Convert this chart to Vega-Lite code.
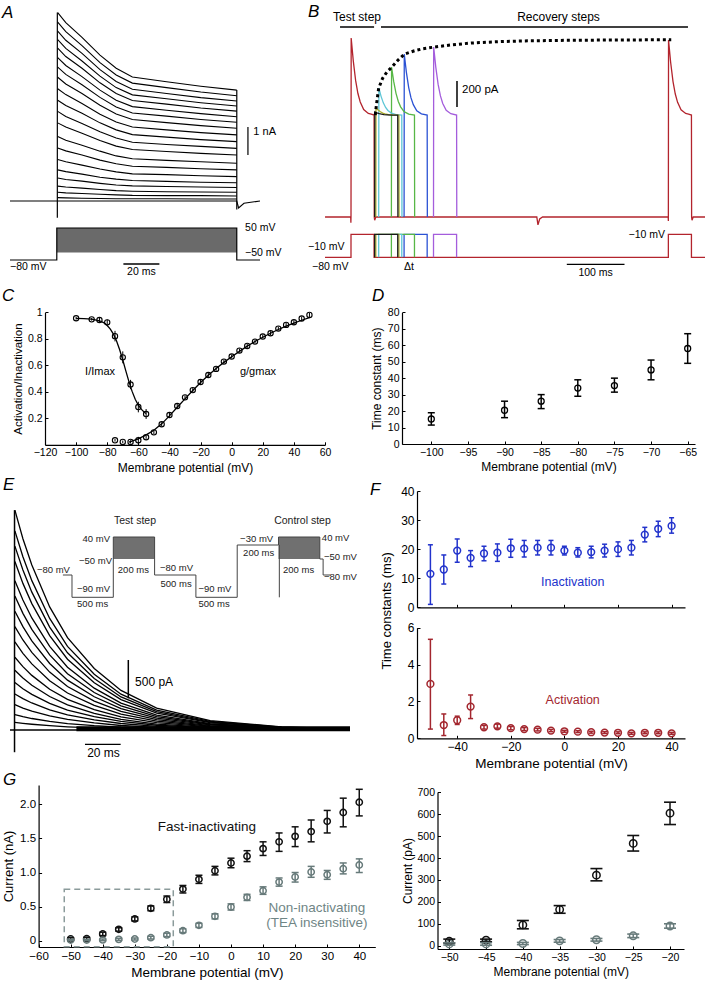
{
"$schema":"https://vega.github.io/schema/vega-lite/v6.json",
"width":705,"height":982,
"autosize":{"type":"none"},
"padding":0,
"background":"white",
"config":{
 "view":{"stroke":null},
 "font":"Liberation Sans",
 "axis":{"grid":false,"domainColor":"#000","domainWidth":1.2,"tickColor":"#000","tickWidth":1,"tickSize":-3,"labelPadding":6,"labelColor":"#000","titleColor":"#000","titleFontWeight":"normal","labelFont":"Liberation Sans","titleFont":"Liberation Sans","labelFontSize":10.5,"titleFontSize":12,"labelFlush":false,"labelOverlap":false,"titlePadding":4},
 "text":{"font":"Liberation Sans","fontSize":10.5,"color":"#000"}
},
"resolve":{"scale":{"x":"independent","y":"independent","color":"independent"},"axis":{"x":"independent","y":"independent"}},
"layer":[
{"layer":[
  {"layer":[
   {"data":{"values":[
{"k":0,"t":-26,"v":0},{"k":0,"t":100,"v":0},{"k":0,"t":101,"v":-0.25},{"k":0,"t":104,"v":-0.08},{"k":0,"t":112.9,"v":0},
{"k":1,"t":0.5,"v":6.73},{"k":1,"t":5,"v":6.37},{"k":1,"t":14,"v":5.84},{"k":1,"t":24,"v":5.21},{"k":1,"t":33,"v":4.74},{"k":1,"t":42,"v":4.43},{"k":1,"t":61,"v":4.26},{"k":1,"t":80,"v":4.1},{"k":1,"t":100,"v":3.96},
{"k":2,"t":0.5,"v":6.39},{"k":2,"t":5,"v":6.05},{"k":2,"t":14,"v":5.55},{"k":2,"t":24,"v":4.94},{"k":2,"t":33,"v":4.5},{"k":2,"t":42,"v":4.21},{"k":2,"t":61,"v":4.05},{"k":2,"t":80,"v":3.89},{"k":2,"t":100,"v":3.76},
{"k":3,"t":0.5,"v":6.07},{"k":3,"t":5,"v":5.74},{"k":3,"t":14,"v":5.27},{"k":3,"t":24,"v":4.69},{"k":3,"t":33,"v":4.27},{"k":3,"t":42,"v":3.99},{"k":3,"t":61,"v":3.84},{"k":3,"t":80,"v":3.69},{"k":3,"t":100,"v":3.57},
{"k":4,"t":0.5,"v":5.76},{"k":4,"t":5,"v":5.45},{"k":4,"t":14,"v":5.0},{"k":4,"t":24,"v":4.46},{"k":4,"t":33,"v":4.05},{"k":4,"t":42,"v":3.79},{"k":4,"t":61,"v":3.65},{"k":4,"t":80,"v":3.51},{"k":4,"t":100,"v":3.39},
{"k":5,"t":0.5,"v":5.46},{"k":5,"t":5,"v":5.16},{"k":5,"t":14,"v":4.74},{"k":5,"t":24,"v":4.22},{"k":5,"t":33,"v":3.84},{"k":5,"t":42,"v":3.59},{"k":5,"t":61,"v":3.46},{"k":5,"t":80,"v":3.32},{"k":5,"t":100,"v":3.21},
{"k":6,"t":0.5,"v":5.12},{"k":6,"t":5,"v":4.84},{"k":6,"t":14,"v":4.44},{"k":6,"t":24,"v":3.96},{"k":6,"t":33,"v":3.6},{"k":6,"t":42,"v":3.37},{"k":6,"t":61,"v":3.24},{"k":6,"t":80,"v":3.12},{"k":6,"t":100,"v":3.01},
{"k":7,"t":0.5,"v":4.78},{"k":7,"t":5,"v":4.52},{"k":7,"t":14,"v":4.15},{"k":7,"t":24,"v":3.7},{"k":7,"t":33,"v":3.36},{"k":7,"t":42,"v":3.14},{"k":7,"t":61,"v":3.03},{"k":7,"t":80,"v":2.91},{"k":7,"t":100,"v":2.81},
{"k":8,"t":0.5,"v":4.42},{"k":8,"t":5,"v":4.18},{"k":8,"t":14,"v":3.84},{"k":8,"t":24,"v":3.42},{"k":8,"t":33,"v":3.11},{"k":8,"t":42,"v":2.91},{"k":8,"t":61,"v":2.8},{"k":8,"t":80,"v":2.69},{"k":8,"t":100,"v":2.6},
{"k":9,"t":0.5,"v":4.01},{"k":9,"t":5,"v":3.8},{"k":9,"t":14,"v":3.48},{"k":9,"t":24,"v":3.1},{"k":9,"t":33,"v":2.82},{"k":9,"t":42,"v":2.64},{"k":9,"t":61,"v":2.54},{"k":9,"t":80,"v":2.44},{"k":9,"t":100,"v":2.36},
{"k":10,"t":0.5,"v":3.6},{"k":10,"t":5,"v":3.41},{"k":10,"t":14,"v":3.13},{"k":10,"t":24,"v":2.79},{"k":10,"t":33,"v":2.54},{"k":10,"t":42,"v":2.37},{"k":10,"t":61,"v":2.28},{"k":10,"t":80,"v":2.19},{"k":10,"t":100,"v":2.12},
{"k":11,"t":0.5,"v":3.2},{"k":11,"t":5,"v":3.02},{"k":11,"t":14,"v":2.77},{"k":11,"t":24,"v":2.47},{"k":11,"t":33,"v":2.25},{"k":11,"t":42,"v":2.1},{"k":11,"t":61,"v":2.02},{"k":11,"t":80,"v":1.95},{"k":11,"t":100,"v":1.88},
{"k":12,"t":0.5,"v":2.79},{"k":12,"t":5,"v":2.64},{"k":12,"t":14,"v":2.42},{"k":12,"t":24,"v":2.16},{"k":12,"t":33,"v":1.96},{"k":12,"t":42,"v":1.84},{"k":12,"t":61,"v":1.77},{"k":12,"t":80,"v":1.7},{"k":12,"t":100,"v":1.64},
{"k":13,"t":0.5,"v":2.3},{"k":13,"t":5,"v":2.17},{"k":13,"t":14,"v":1.99},{"k":13,"t":24,"v":1.78},{"k":13,"t":33,"v":1.61},{"k":13,"t":42,"v":1.51},{"k":13,"t":61,"v":1.45},{"k":13,"t":80,"v":1.4},{"k":13,"t":100,"v":1.35},
{"k":14,"t":0.5,"v":1.89},{"k":14,"t":5,"v":1.79},{"k":14,"t":14,"v":1.64},{"k":14,"t":24,"v":1.46},{"k":14,"t":33,"v":1.33},{"k":14,"t":42,"v":1.24},{"k":14,"t":61,"v":1.2},{"k":14,"t":80,"v":1.15},{"k":14,"t":100,"v":1.11},
{"k":15,"t":0.5,"v":1.48},{"k":15,"t":5,"v":1.4},{"k":15,"t":14,"v":1.28},{"k":15,"t":24,"v":1.14},{"k":15,"t":33,"v":1.04},{"k":15,"t":42,"v":0.97},{"k":15,"t":61,"v":0.94},{"k":15,"t":80,"v":0.9},{"k":15,"t":100,"v":0.87},
{"k":16,"t":0.5,"v":1.11},{"k":16,"t":5,"v":1.05},{"k":16,"t":14,"v":0.96},{"k":16,"t":24,"v":0.85},{"k":16,"t":33,"v":0.78},{"k":16,"t":42,"v":0.73},{"k":16,"t":61,"v":0.7},{"k":16,"t":80,"v":0.67},{"k":16,"t":100,"v":0.65},
{"k":17,"t":0.5,"v":0.82},{"k":17,"t":5,"v":0.77},{"k":17,"t":14,"v":0.71},{"k":17,"t":24,"v":0.63},{"k":17,"t":33,"v":0.57},{"k":17,"t":42,"v":0.54},{"k":17,"t":61,"v":0.52},{"k":17,"t":80,"v":0.5},{"k":17,"t":100,"v":0.48},
{"k":18,"t":0.5,"v":0.53},{"k":18,"t":5,"v":0.5},{"k":18,"t":14,"v":0.46},{"k":18,"t":24,"v":0.41},{"k":18,"t":33,"v":0.37},{"k":18,"t":42,"v":0.35},{"k":18,"t":61,"v":0.33},{"k":18,"t":80,"v":0.32},{"k":18,"t":100,"v":0.31},
{"k":19,"t":0.5,"v":0.31},{"k":19,"t":5,"v":0.29},{"k":19,"t":14,"v":0.27},{"k":19,"t":24,"v":0.24},{"k":19,"t":33,"v":0.22},{"k":19,"t":42,"v":0.2},{"k":19,"t":61,"v":0.19},{"k":19,"t":80,"v":0.19},{"k":19,"t":100,"v":0.18},
{"k":20,"t":0.5,"v":0.12},{"k":20,"t":5,"v":0.11},{"k":20,"t":14,"v":0.1},{"k":20,"t":24,"v":0.09},{"k":20,"t":33,"v":0.08},{"k":20,"t":42,"v":0.08},{"k":20,"t":61,"v":0.08},{"k":20,"t":80,"v":0.07},{"k":20,"t":100,"v":0.07}
   ]},
    "mark":{"type":"line","color":"#000","strokeWidth":1.1},
    "encoding":{"x":{"field":"t","type":"quantitative","scale":{"domain":[-26,112.9],"range":[10,260],"nice":false,"zero":false},"axis":null},
                "y":{"field":"v","type":"quantitative","scale":{"domain":[-2.286,6.821],"range":[265,10],"nice":false,"zero":false},"axis":null},
                "detail":{"field":"k","type":"nominal"}}},
   {"data":{"values":[{"t":0.3,"v1":-0.6,"v2":6.73},{"t":100,"v1":-0.3,"v2":3.96},{"t":106.2,"v1":1.64,"v2":2.64}]},
    "mark":{"type":"rule","color":"#000","strokeWidth":1.2},
    "encoding":{"x":{"field":"t","type":"quantitative","scale":{"domain":[-26,112.9],"range":[10,260],"nice":false,"zero":false},"axis":null},
                "y":{"field":"v1","type":"quantitative","scale":{"domain":[-2.286,6.821],"range":[265,10],"nice":false,"zero":false},"axis":null},
                "y2":{"field":"v2"}}},
   {"data":{"values":[{"t":109.2,"v":2.45,"label":"1 nA"}]},
    "mark":{"type":"text","align":"left","fontSize":11},
    "encoding":{"x":{"field":"t","type":"quantitative","scale":{"domain":[-26,112.9],"range":[10,260],"nice":false,"zero":false},"axis":null},
                "y":{"field":"v","type":"quantitative","scale":{"domain":[-2.286,6.821],"range":[265,10],"nice":false,"zero":false},"axis":null},
                "text":{"field":"label"}}},
   {"data":{"values":[{"t":-30.4,"v":6.73,"label":"A"}]},
    "mark":{"type":"text","align":"left","fontSize":17,"fontStyle":"italic"},
    "encoding":{"x":{"field":"t","type":"quantitative","scale":{"domain":[-26,112.9],"range":[10,260],"nice":false,"zero":false},"axis":null},
                "y":{"field":"v","type":"quantitative","scale":{"domain":[-2.286,6.821],"range":[265,10],"nice":false,"zero":false},"axis":null},
                "text":{"field":"label"}}}
  ]},
  {"layer":[
   {"data":{"values":[{"t1":0,"t2":100,"m1":-50,"m2":50}]},
    "mark":{"type":"rect","color":"#6a6a6a"},
    "encoding":{"x":{"field":"t1","type":"quantitative","scale":{"domain":[-26,112.9],"range":[10,260],"nice":false,"zero":false},"axis":null},"x2":{"field":"t2"},
                "y":{"field":"m1","type":"quantitative","scale":{"domain":[-100.3,935.6],"range":[265,10],"nice":false,"zero":false},"axis":null},"y2":{"field":"m2"}}},
   {"data":{"values":[{"t":-26,"m":-80},{"t":0,"m":-80},{"t":0.01,"m":50},{"t":99.99,"m":50},{"t":100,"m":-80},{"t":112.9,"m":-80}]},
    "mark":{"type":"line","color":"#000","strokeWidth":1.2},
    "encoding":{"x":{"field":"t","type":"quantitative","scale":{"domain":[-26,112.9],"range":[10,260],"nice":false,"zero":false},"axis":null},
                "y":{"field":"m","type":"quantitative","scale":{"domain":[-100.3,935.6],"range":[265,10],"nice":false,"zero":false},"axis":null}}},
   {"data":{"values":[{"t1":37,"t2":57,"m":-96.25}]},
    "mark":{"type":"rule","color":"#000","strokeWidth":1.3},
    "encoding":{"x":{"field":"t1","type":"quantitative","scale":{"domain":[-26,112.9],"range":[10,260],"nice":false,"zero":false},"axis":null},"x2":{"field":"t2"},
                "y":{"field":"m","type":"quantitative","scale":{"domain":[-100.3,935.6],"range":[265,10],"nice":false,"zero":false},"axis":null}}},
   {"data":{"values":[{"t":104.6,"m":50,"label":"50 mV"},{"t":104.6,"m":-50,"label":"−50 mV"},{"t":-26,"m":-108.4,"label":"−80 mV"}]},
    "mark":{"type":"text","align":"left"},
    "encoding":{"x":{"field":"t","type":"quantitative","scale":{"domain":[-26,112.9],"range":[10,260],"nice":false,"zero":false},"axis":null},
                "y":{"field":"m","type":"quantitative","scale":{"domain":[-100.3,935.6],"range":[265,10],"nice":false,"zero":false},"axis":null},
                "text":{"field":"label"}}},
   {"data":{"values":[{"t":47,"m":-127.5,"label":"20 ms"}]},
    "mark":{"type":"text"},
    "encoding":{"x":{"field":"t","type":"quantitative","scale":{"domain":[-26,112.9],"range":[10,260],"nice":false,"zero":false},"axis":null},
                "y":{"field":"m","type":"quantitative","scale":{"domain":[-100.3,935.6],"range":[265,10],"nice":false,"zero":false},"axis":null},
                "text":{"field":"label"}}}
  ]}
 ],
 "resolve":{"scale":{"y":"independent"}}
},
{"layer":[
  {"layer":[
   {"data":{"values":[
{"t":-45,"v":0},{"t":-0.5,"v":0},{"t":-0.2,"v":-45},{"t":0,"v":0},{"t":0.3,"v":1378},{"t":4,"v":1200},{"t":8,"v":1052},{"t":12,"v":951},{"t":16,"v":886},{"t":22,"v":827},{"t":30,"v":797},{"t":35,"v":792},{"t":40,"v":785},{"t":40.3,"v":0},{"t":41,"v":-25},{"t":43,"v":0},{"t":322,"v":0},{"t":324,"v":-60},{"t":327,"v":-15},{"t":332,"v":0},{"t":549.7,"v":0},{"t":550,"v":-30},{"t":550.3,"v":1363},{"t":554,"v":1190},{"t":558,"v":1045},{"t":562,"v":947},{"t":566,"v":883},{"t":572,"v":825},{"t":580,"v":797},{"t":585,"v":792},{"t":590,"v":785},{"t":590.3,"v":0},{"t":591,"v":-25},{"t":593,"v":0},{"t":613.5,"v":0}
   ]},
    "mark":{"type":"line","color":"#b3242d","strokeWidth":1.3},
    "encoding":{"x":{"field":"t","type":"quantitative","scale":{"domain":[-79.72,613.5],"range":[305,705],"nice":false,"zero":false},"axis":null},
                "y":{"field":"v","type":"quantitative","scale":{"domain":[-446.6,1663.2],"range":[275,1],"nice":false,"zero":false},"axis":null}}},
   {"data":{"values":[
{"c":"purple","t":143,"v":0},{"c":"purple","t":143.3,"v":1309},{"c":"purple","t":147,"v":1152},{"c":"purple","t":151,"v":1021},{"c":"purple","t":155,"v":932},{"c":"purple","t":159,"v":874},{"c":"purple","t":165,"v":822},{"c":"purple","t":173,"v":795},{"c":"purple","t":183,"v":785},{"c":"purple","t":183.3,"v":0},
{"c":"blue","t":92,"v":0},{"c":"blue","t":92.3,"v":1255},{"c":"blue","t":96,"v":1114},{"c":"blue","t":100,"v":997},{"c":"blue","t":104,"v":917},{"c":"blue","t":108,"v":865},{"c":"blue","t":114,"v":818},{"c":"blue","t":122,"v":794},{"c":"blue","t":132,"v":785},{"c":"blue","t":132.3,"v":0},
{"c":"green","t":70,"v":0},{"c":"green","t":70.3,"v":1155},{"c":"green","t":74,"v":1044},{"c":"green","t":78,"v":952},{"c":"green","t":82,"v":889},{"c":"green","t":86,"v":848},{"c":"green","t":92,"v":811},{"c":"green","t":100,"v":792},{"c":"green","t":110,"v":785},{"c":"green","t":110.3,"v":0},
{"c":"cyan","t":48,"v":0},{"c":"cyan","t":48.3,"v":993},{"c":"cyan","t":52,"v":931},{"c":"cyan","t":56,"v":879},{"c":"cyan","t":60,"v":843},{"c":"cyan","t":64,"v":820},{"c":"cyan","t":70,"v":800},{"c":"cyan","t":78,"v":789},{"c":"cyan","t":88,"v":785},{"c":"cyan","t":88.3,"v":0},
{"c":"olive","t":43,"v":0},{"c":"olive","t":43.3,"v":840},{"c":"olive","t":47,"v":824},{"c":"olive","t":51,"v":810},{"c":"olive","t":55,"v":800},{"c":"olive","t":59,"v":794},{"c":"olive","t":65,"v":789},{"c":"olive","t":73,"v":786},{"c":"olive","t":83,"v":785},{"c":"olive","t":83.3,"v":0},
{"c":"black","t":41,"v":0},{"c":"black","t":41.3,"v":810},{"c":"black","t":45,"v":802},{"c":"black","t":49,"v":796},{"c":"black","t":53,"v":792},{"c":"black","t":57,"v":789},{"c":"black","t":63,"v":787},{"c":"black","t":71,"v":785},{"c":"black","t":81,"v":785},{"c":"black","t":81.3,"v":0}
   ]},
    "mark":{"type":"line","strokeWidth":1.3},
    "encoding":{"x":{"field":"t","type":"quantitative","scale":{"domain":[-79.72,613.5],"range":[305,705],"nice":false,"zero":false},"axis":null},
                "y":{"field":"v","type":"quantitative","scale":{"domain":[-446.6,1663.2],"range":[275,1],"nice":false,"zero":false},"axis":null},
                "color":{"field":"c","type":"nominal","scale":{"domain":["black","olive","cyan","green","blue","purple"],"range":["#1a1a1a","#aeb02c","#5ec6d6","#57b746","#2b52d4","#a45ddc"]},"legend":null}}},
   {"data":{"values":[{"t":42,"v":785},{"t":44,"v":860},{"t":48,"v":993},{"t":55,"v":1070},{"t":62,"v":1115},{"t":71,"v":1155},{"t":82,"v":1210},{"t":93,"v":1255},{"t":110,"v":1280},{"t":125,"v":1296},{"t":145,"v":1309},{"t":175,"v":1326},{"t":210,"v":1340},{"t":260,"v":1351},{"t":300,"v":1356},{"t":380,"v":1361},{"t":470,"v":1363},{"t":555,"v":1365}]},
    "mark":{"type":"line","color":"#000","strokeWidth":3,"strokeDash":[3,3]},
    "encoding":{"x":{"field":"t","type":"quantitative","scale":{"domain":[-79.72,613.5],"range":[305,705],"nice":false,"zero":false},"axis":null},
                "y":{"field":"v","type":"quantitative","scale":{"domain":[-446.6,1663.2],"range":[275,1],"nice":false,"zero":false},"axis":null}}},
   {"data":{"values":[{"t1":-19,"t2":40,"v":1463},{"t1":52,"t2":584,"v":1463}]},
    "mark":{"type":"rule","color":"#000","strokeWidth":1.3},
    "encoding":{"x":{"field":"t1","type":"quantitative","scale":{"domain":[-79.72,613.5],"range":[305,705],"nice":false,"zero":false},"axis":null},"x2":{"field":"t2"},
                "y":{"field":"v","type":"quantitative","scale":{"domain":[-446.6,1663.2],"range":[275,1],"nice":false,"zero":false},"axis":null}}},
   {"data":{"values":[{"t":183.7,"v1":847,"v2":1047}]},
    "mark":{"type":"rule","color":"#000","strokeWidth":1.5},
    "encoding":{"x":{"field":"t","type":"quantitative","scale":{"domain":[-79.72,613.5],"range":[305,705],"nice":false,"zero":false},"axis":null},
                "y":{"field":"v1","type":"quantitative","scale":{"domain":[-446.6,1663.2],"range":[275,1],"nice":false,"zero":false},"axis":null},"y2":{"field":"v2"}}},
   {"data":{"values":[{"t":10.4,"v":1540,"label":"Test step"},{"t":359.6,"v":1540,"label":"Recovery steps"}]},
    "mark":{"type":"text","fontSize":12},
    "encoding":{"x":{"field":"t","type":"quantitative","scale":{"domain":[-79.72,613.5],"range":[305,705],"nice":false,"zero":false},"axis":null},
                "y":{"field":"v","type":"quantitative","scale":{"domain":[-446.6,1663.2],"range":[275,1],"nice":false,"zero":false},"axis":null},"text":{"field":"label"}}},
   {"data":{"values":[{"t":192.4,"v":978,"label":"200 pA"}]},
    "mark":{"type":"text","fontSize":11.5,"align":"left"},
    "encoding":{"x":{"field":"t","type":"quantitative","scale":{"domain":[-79.72,613.5],"range":[305,705],"nice":false,"zero":false},"axis":null},
                "y":{"field":"v","type":"quantitative","scale":{"domain":[-446.6,1663.2],"range":[275,1],"nice":false,"zero":false},"axis":null},"text":{"field":"label"}}},
   {"data":{"values":[{"t":-74.5,"v":1582,"label":"B"}]},
    "mark":{"type":"text","fontSize":17,"fontStyle":"italic","align":"left"},
    "encoding":{"x":{"field":"t","type":"quantitative","scale":{"domain":[-79.72,613.5],"range":[305,705],"nice":false,"zero":false},"axis":null},
                "y":{"field":"v","type":"quantitative","scale":{"domain":[-446.6,1663.2],"range":[275,1],"nice":false,"zero":false},"axis":null},"text":{"field":"label"}}}
  ]},
  {"layer":[
   {"data":{"values":[{"t":-45,"m":-80},{"t":0,"m":-80},{"t":0.01,"m":-10},{"t":40,"m":-10},{"t":40.01,"m":-80},{"t":550,"m":-80},{"t":550.01,"m":-10},{"t":590,"m":-10},{"t":590.01,"m":-80},{"t":613.5,"m":-80}]},
    "mark":{"type":"line","color":"#b3242d","strokeWidth":1.3},
    "encoding":{"x":{"field":"t","type":"quantitative","scale":{"domain":[-79.72,613.5],"range":[305,705],"nice":false,"zero":false},"axis":null},
                "y":{"field":"m","type":"quantitative","scale":{"domain":[-133.9,699.9],"range":[275,1],"nice":false,"zero":false},"axis":null}}},
   {"data":{"values":[
{"c":"purple","t":143,"m":-80},{"c":"purple","t":143.01,"m":-10},{"c":"purple","t":183,"m":-10},{"c":"purple","t":183.01,"m":-80},
{"c":"blue","t":92,"m":-80},{"c":"blue","t":92.01,"m":-10},{"c":"blue","t":132,"m":-10},{"c":"blue","t":132.01,"m":-80},
{"c":"green","t":70,"m":-80},{"c":"green","t":70.01,"m":-10},{"c":"green","t":110,"m":-10},{"c":"green","t":110.01,"m":-80},
{"c":"cyan","t":48,"m":-80},{"c":"cyan","t":48.01,"m":-10},{"c":"cyan","t":88,"m":-10},{"c":"cyan","t":88.01,"m":-80},
{"c":"olive","t":43,"m":-80},{"c":"olive","t":43.01,"m":-10},{"c":"olive","t":83,"m":-10},{"c":"olive","t":83.01,"m":-80},
{"c":"black","t":41,"m":-80},{"c":"black","t":41.01,"m":-10},{"c":"black","t":81,"m":-10},{"c":"black","t":81.01,"m":-80}
   ]},
    "mark":{"type":"line","strokeWidth":1.3},
    "encoding":{"x":{"field":"t","type":"quantitative","scale":{"domain":[-79.72,613.5],"range":[305,705],"nice":false,"zero":false},"axis":null},
                "y":{"field":"m","type":"quantitative","scale":{"domain":[-133.9,699.9],"range":[275,1],"nice":false,"zero":false},"axis":null},
                "color":{"field":"c","type":"nominal","scale":{"domain":["black","olive","cyan","green","blue","purple"],"range":["#1a1a1a","#aeb02c","#5ec6d6","#57b746","#2b52d4","#a45ddc"]},"legend":null}}},
   {"data":{"values":[{"t1":374,"t2":474,"m":-101.3}]},
    "mark":{"type":"rule","color":"#000","strokeWidth":1.3},
    "encoding":{"x":{"field":"t1","type":"quantitative","scale":{"domain":[-79.72,613.5],"range":[305,705],"nice":false,"zero":false},"axis":null},"x2":{"field":"t2"},
                "y":{"field":"m","type":"quantitative","scale":{"domain":[-133.9,699.9],"range":[275,1],"nice":false,"zero":false},"axis":null}}},
   {"data":{"values":[{"t":-74.5,"m":-47.7,"label":"−10 mV"},{"t":-67.6,"m":-108.6,"label":"−80 mV"}]},
    "mark":{"type":"text","align":"left"},
    "encoding":{"x":{"field":"t","type":"quantitative","scale":{"domain":[-79.72,613.5],"range":[305,705],"nice":false,"zero":false},"axis":null},
                "y":{"field":"m","type":"quantitative","scale":{"domain":[-133.9,699.9],"range":[275,1],"nice":false,"zero":false},"axis":null},"text":{"field":"label"}}},
   {"data":{"values":[{"t":544.2,"m":-12.1,"label":"−10 mV"}]},
    "mark":{"type":"text","align":"right"},
    "encoding":{"x":{"field":"t","type":"quantitative","scale":{"domain":[-79.72,613.5],"range":[305,705],"nice":false,"zero":false},"axis":null},
                "y":{"field":"m","type":"quantitative","scale":{"domain":[-133.9,699.9],"range":[275,1],"nice":false,"zero":false},"axis":null},"text":{"field":"label"}}},
   {"data":{"values":[{"t":100.5,"m":-108.6,"label":"Δt"},{"t":424,"m":-127.8,"label":"100 ms"}]},
    "mark":{"type":"text"},
    "encoding":{"x":{"field":"t","type":"quantitative","scale":{"domain":[-79.72,613.5],"range":[305,705],"nice":false,"zero":false},"axis":null},
                "y":{"field":"m","type":"quantitative","scale":{"domain":[-133.9,699.9],"range":[275,1],"nice":false,"zero":false},"axis":null},"text":{"field":"label"}}}
  ]}
 ],
 "resolve":{"scale":{"y":"independent"}}
},
{"data":{"values":[
{"x":-100,"y":0.955,"lo":0.945,"hi":0.965},{"x":-90,"y":0.947,"lo":0.937,"hi":0.957},{"x":-85,"y":0.942,"lo":0.925,"hi":0.958},{"x":-80,"y":0.924,"lo":0.905,"hi":0.945},{"x":-75,"y":0.82,"lo":0.78,"hi":0.86},{"x":-70,"y":0.66,"lo":0.615,"hi":0.705},{"x":-65,"y":0.455,"lo":0.42,"hi":0.49},{"x":-60,"y":0.285,"lo":0.245,"hi":0.325},{"x":-55,"y":0.232,"lo":0.195,"hi":0.27},
{"x":-75,"y":0.034,"lo":0.024,"hi":0.044},{"x":-70,"y":0.022,"lo":0.012,"hi":0.032},{"x":-65,"y":0.022,"lo":0.01,"hi":0.034},{"x":-60,"y":0.034,"lo":0.005,"hi":0.06},{"x":-55,"y":0.057,"lo":0.045,"hi":0.07},{"x":-50,"y":0.094,"lo":0.08,"hi":0.108},{"x":-45,"y":0.155,"lo":0.14,"hi":0.17},{"x":-40,"y":0.225,"lo":0.21,"hi":0.24},{"x":-35,"y":0.293,"lo":0.278,"hi":0.308},{"x":-30,"y":0.358,"lo":0.343,"hi":0.373},{"x":-25,"y":0.413,"lo":0.398,"hi":0.428},{"x":-20,"y":0.474,"lo":0.459,"hi":0.489},{"x":-15,"y":0.527,"lo":0.512,"hi":0.542},{"x":-10,"y":0.573,"lo":0.558,"hi":0.588},{"x":-5,"y":0.628,"lo":0.613,"hi":0.643},{"x":0,"y":0.666,"lo":0.651,"hi":0.681},{"x":5,"y":0.711,"lo":0.696,"hi":0.726},{"x":10,"y":0.746,"lo":0.731,"hi":0.761},{"x":15,"y":0.779,"lo":0.764,"hi":0.794},{"x":20,"y":0.817,"lo":0.802,"hi":0.832},{"x":25,"y":0.842,"lo":0.827,"hi":0.857},{"x":30,"y":0.877,"lo":0.862,"hi":0.892},{"x":35,"y":0.905,"lo":0.89,"hi":0.92},{"x":40,"y":0.925,"lo":0.91,"hi":0.94},{"x":45,"y":0.953,"lo":0.938,"hi":0.968},{"x":50,"y":0.98,"lo":0.965,"hi":0.995}
 ]},
 "layer":[
  {"mark":{"type":"point","shape":"circle","filled":false,"color":"#000","size":28,"strokeWidth":1.1,"opacity":1},
   "encoding":{"x":{"field":"x","type":"quantitative","scale":{"domain":[-120,60],"range":[45,325],"nice":false,"zero":false},"axis":{"orient":"bottom","offset":-537.2,"values":[-120,-100,-80,-60,-40,-20,0,20,40,60],"format":"d","title":"Membrane potential (mV)"}},
               "y":{"field":"y","type":"quantitative","scale":{"domain":[0,1],"range":[444.8,312.3],"nice":false,"zero":false},"axis":{"orient":"left","offset":-45,"values":[0.2,0.4,0.6,0.8,1],"format":"~g","title":"Activation/Inactivation","titleFontSize":11.5}}}},
  {"mark":{"type":"rule","color":"#000","strokeWidth":1},
   "encoding":{"x":{"field":"x","type":"quantitative","scale":{"domain":[-120,60],"range":[45,325],"nice":false,"zero":false}},
               "y":{"field":"lo","type":"quantitative","scale":{"domain":[0,1],"range":[444.8,312.3],"nice":false,"zero":false}},"y2":{"field":"hi"}}},
  {"data":{"values":[
{"s":"i","x":-100,"y":0.954},{"s":"i","x":-95,"y":0.952},{"s":"i","x":-90,"y":0.948},{"s":"i","x":-85,"y":0.936},{"s":"i","x":-82,"y":0.92},{"s":"i","x":-80,"y":0.9},{"s":"i","x":-78,"y":0.873},{"s":"i","x":-76,"y":0.835},{"s":"i","x":-74,"y":0.783},{"s":"i","x":-72,"y":0.717},{"s":"i","x":-70,"y":0.64},{"s":"i","x":-68,"y":0.556},{"s":"i","x":-66,"y":0.475},{"s":"i","x":-64,"y":0.403},{"s":"i","x":-62,"y":0.344},{"s":"i","x":-60,"y":0.299},{"s":"i","x":-58,"y":0.267},{"s":"i","x":-56,"y":0.244},{"s":"i","x":-55,"y":0.236},
{"s":"a","x":-66,"y":0.02},{"s":"a","x":-60,"y":0.045},{"s":"a","x":-55,"y":0.075},{"s":"a","x":-50,"y":0.11},{"s":"a","x":-45,"y":0.158},{"s":"a","x":-40,"y":0.218},{"s":"a","x":-35,"y":0.283},{"s":"a","x":-30,"y":0.347},{"s":"a","x":-25,"y":0.41},{"s":"a","x":-20,"y":0.47},{"s":"a","x":-15,"y":0.525},{"s":"a","x":-10,"y":0.575},{"s":"a","x":-5,"y":0.622},{"s":"a","x":0,"y":0.665},{"s":"a","x":5,"y":0.705},{"s":"a","x":10,"y":0.745},{"s":"a","x":15,"y":0.78},{"s":"a","x":20,"y":0.812},{"s":"a","x":25,"y":0.842},{"s":"a","x":30,"y":0.87},{"s":"a","x":35,"y":0.895},{"s":"a","x":40,"y":0.918},{"s":"a","x":45,"y":0.94},{"s":"a","x":50,"y":0.96}
  ]},
   "mark":{"type":"line","color":"#000","strokeWidth":1.3},
   "encoding":{"x":{"field":"x","type":"quantitative","scale":{"domain":[-120,60],"range":[45,325],"nice":false,"zero":false}},
               "y":{"field":"y","type":"quantitative","scale":{"domain":[0,1],"range":[444.8,312.3],"nice":false,"zero":false}},
               "detail":{"field":"s","type":"nominal"}}},
  {"data":{"values":[{"x":-84.6,"y":0.552,"label":"I/Imax"},{"x":16.9,"y":0.552,"label":"g/gmax"}]},
   "mark":{"type":"text","fontSize":11},
   "encoding":{"x":{"field":"x","type":"quantitative","scale":{"domain":[-120,60],"range":[45,325],"nice":false,"zero":false}},
               "y":{"field":"y","type":"quantitative","scale":{"domain":[0,1],"range":[444.8,312.3],"nice":false,"zero":false}},"text":{"field":"label"}}},
  {"data":{"values":[{"x":-147.6,"y":1.12,"label":"C"}]},
   "mark":{"type":"text","fontSize":17,"fontStyle":"italic","align":"left"},
   "encoding":{"x":{"field":"x","type":"quantitative","scale":{"domain":[-120,60],"range":[45,325],"nice":false,"zero":false}},
               "y":{"field":"y","type":"quantitative","scale":{"domain":[0,1],"range":[444.8,312.3],"nice":false,"zero":false}},"text":{"field":"label"}}}
 ]
},
{"data":{"values":[{"x":-100,"y":15.2,"lo":11.5,"hi":19},{"x":-90,"y":20.5,"lo":16,"hi":26},{"x":-85,"y":26,"lo":21.5,"hi":30},{"x":-80,"y":34,"lo":29,"hi":39},{"x":-75,"y":35.5,"lo":31.5,"hi":40},{"x":-70,"y":45,"lo":39,"hi":51},{"x":-65,"y":58,"lo":49,"hi":67}]},
 "layer":[
  {"mark":{"type":"point","shape":"circle","filled":false,"color":"#000","size":36,"strokeWidth":1.3,"opacity":1},
   "encoding":{"x":{"field":"x","type":"quantitative","scale":{"domain":[-104,-64],"range":[402,695],"nice":false,"zero":false},"axis":{"orient":"bottom","offset":-538,"values":[-100,-95,-90,-85,-80,-75,-70,-65],"format":"d","title":"Membrane potential (mV)"}},
               "y":{"field":"y","type":"quantitative","scale":{"domain":[0,80],"range":[444,312.3],"nice":false,"zero":false},"axis":{"orient":"left","offset":-402,"values":[0,10,20,30,40,50,60,70,80],"format":"d","title":"Time constant (ms)"}}}},
  {"mark":{"type":"rule","color":"#000","strokeWidth":1.5},
   "encoding":{"x":{"field":"x","type":"quantitative","scale":{"domain":[-104,-64],"range":[402,695],"nice":false,"zero":false}},
               "y":{"field":"lo","type":"quantitative","scale":{"domain":[0,80],"range":[444,312.3],"nice":false,"zero":false}},"y2":{"field":"hi"}}},
  {"mark":{"type":"tick","orient":"horizontal","size":7,"thickness":1.5,"color":"#000","opacity":1},
   "encoding":{"x":{"field":"x","type":"quantitative","scale":{"domain":[-104,-64],"range":[402,695],"nice":false,"zero":false}},
               "y":{"field":"lo","type":"quantitative","scale":{"domain":[0,80],"range":[444,312.3],"nice":false,"zero":false}}}},
  {"mark":{"type":"tick","orient":"horizontal","size":7,"thickness":1.5,"color":"#000","opacity":1},
   "encoding":{"x":{"field":"x","type":"quantitative","scale":{"domain":[-104,-64],"range":[402,695],"nice":false,"zero":false}},
               "y":{"field":"hi","type":"quantitative","scale":{"domain":[0,80],"range":[444,312.3],"nice":false,"zero":false}}}},
  {"data":{"values":[{"x":-108.1,"y":89.7,"label":"D"}]},
   "mark":{"type":"text","fontSize":17,"fontStyle":"italic","align":"left"},
   "encoding":{"x":{"field":"x","type":"quantitative","scale":{"domain":[-104,-64],"range":[402,695],"nice":false,"zero":false}},
               "y":{"field":"y","type":"quantitative","scale":{"domain":[0,80],"range":[444,312.3],"nice":false,"zero":false}},"text":{"field":"label"}}}
 ]
},
{"layer":[
  {"layer":[
   {"data":{"values":[
{"k":0,"t":-2.24,"v":0},{"k":0,"t":188.4,"v":0},
{"k":1,"t":0.5,"v":2870},{"k":1,"t":5,"v":2497},{"k":1,"t":10,"v":2153},{"k":1,"t":20,"v":1607},{"k":1,"t":30,"v":1205},{"k":1,"t":45,"v":804},{"k":1,"t":60,"v":517},{"k":1,"t":80,"v":287},{"k":1,"t":110,"v":123},{"k":1,"t":150,"v":40},{"k":1,"t":188.4,"v":14},
{"k":2,"t":0.5,"v":2600},{"k":2,"t":5,"v":2262},{"k":2,"t":10,"v":1950},{"k":2,"t":20,"v":1456},{"k":2,"t":30,"v":1092},{"k":2,"t":45,"v":728},{"k":2,"t":60,"v":468},{"k":2,"t":80,"v":260},{"k":2,"t":110,"v":112},{"k":2,"t":150,"v":36},{"k":2,"t":188.4,"v":13},
{"k":3,"t":0.5,"v":2400},{"k":3,"t":5,"v":2088},{"k":3,"t":10,"v":1800},{"k":3,"t":20,"v":1344},{"k":3,"t":30,"v":1008},{"k":3,"t":45,"v":672},{"k":3,"t":60,"v":432},{"k":3,"t":80,"v":240},{"k":3,"t":110,"v":103},{"k":3,"t":150,"v":34},{"k":3,"t":188.4,"v":12},
{"k":4,"t":0.5,"v":2200},{"k":4,"t":5,"v":1914},{"k":4,"t":10,"v":1650},{"k":4,"t":20,"v":1232},{"k":4,"t":30,"v":924},{"k":4,"t":45,"v":616},{"k":4,"t":60,"v":396},{"k":4,"t":80,"v":220},{"k":4,"t":110,"v":95},{"k":4,"t":150,"v":31},{"k":4,"t":188.4,"v":11},
{"k":5,"t":0.5,"v":1950},{"k":5,"t":5,"v":1697},{"k":5,"t":10,"v":1463},{"k":5,"t":20,"v":1092},{"k":5,"t":30,"v":819},{"k":5,"t":45,"v":546},{"k":5,"t":60,"v":351},{"k":5,"t":80,"v":195},{"k":5,"t":110,"v":84},{"k":5,"t":150,"v":27},{"k":5,"t":188.4,"v":10},
{"k":6,"t":0.5,"v":1750},{"k":6,"t":5,"v":1523},{"k":6,"t":10,"v":1313},{"k":6,"t":20,"v":980},{"k":6,"t":30,"v":735},{"k":6,"t":45,"v":490},{"k":6,"t":60,"v":315},{"k":6,"t":80,"v":175},{"k":6,"t":110,"v":75},{"k":6,"t":150,"v":25},{"k":6,"t":188.4,"v":9},
{"k":7,"t":0.5,"v":1550},{"k":7,"t":5,"v":1349},{"k":7,"t":10,"v":1163},{"k":7,"t":20,"v":868},{"k":7,"t":30,"v":651},{"k":7,"t":45,"v":434},{"k":7,"t":60,"v":279},{"k":7,"t":80,"v":155},{"k":7,"t":110,"v":67},{"k":7,"t":150,"v":22},{"k":7,"t":188.4,"v":8},
{"k":8,"t":0.5,"v":1350},{"k":8,"t":5,"v":1175},{"k":8,"t":10,"v":1013},{"k":8,"t":20,"v":756},{"k":8,"t":30,"v":567},{"k":8,"t":45,"v":378},{"k":8,"t":60,"v":243},{"k":8,"t":80,"v":135},{"k":8,"t":110,"v":58},{"k":8,"t":150,"v":19},{"k":8,"t":188.4,"v":7},
{"k":9,"t":0.5,"v":1150},{"k":9,"t":5,"v":1001},{"k":9,"t":10,"v":863},{"k":9,"t":20,"v":644},{"k":9,"t":30,"v":483},{"k":9,"t":45,"v":322},{"k":9,"t":60,"v":207},{"k":9,"t":80,"v":115},{"k":9,"t":110,"v":49},{"k":9,"t":150,"v":16},{"k":9,"t":188.4,"v":6},
{"k":10,"t":0.5,"v":950},{"k":10,"t":5,"v":827},{"k":10,"t":10,"v":713},{"k":10,"t":20,"v":532},{"k":10,"t":30,"v":399},{"k":10,"t":45,"v":266},{"k":10,"t":60,"v":171},{"k":10,"t":80,"v":95},{"k":10,"t":110,"v":41},{"k":10,"t":150,"v":13},{"k":10,"t":188.4,"v":5},
{"k":11,"t":0.5,"v":780},{"k":11,"t":5,"v":679},{"k":11,"t":10,"v":585},{"k":11,"t":20,"v":437},{"k":11,"t":30,"v":328},{"k":11,"t":45,"v":218},{"k":11,"t":60,"v":140},{"k":11,"t":80,"v":78},{"k":11,"t":110,"v":34},{"k":11,"t":150,"v":11},{"k":11,"t":188.4,"v":4},
{"k":12,"t":0.5,"v":620},{"k":12,"t":5,"v":539},{"k":12,"t":10,"v":465},{"k":12,"t":20,"v":347},{"k":12,"t":30,"v":260},{"k":12,"t":45,"v":174},{"k":12,"t":60,"v":112},{"k":12,"t":80,"v":62},{"k":12,"t":110,"v":27},{"k":12,"t":150,"v":9},{"k":12,"t":188.4,"v":3},
{"k":13,"t":0.5,"v":470},{"k":13,"t":5,"v":409},{"k":13,"t":10,"v":353},{"k":13,"t":20,"v":263},{"k":13,"t":30,"v":197},{"k":13,"t":45,"v":132},{"k":13,"t":60,"v":85},{"k":13,"t":80,"v":47},{"k":13,"t":110,"v":20},{"k":13,"t":150,"v":7},{"k":13,"t":188.4,"v":2},
{"k":14,"t":0.5,"v":330},{"k":14,"t":5,"v":287},{"k":14,"t":10,"v":248},{"k":14,"t":20,"v":185},{"k":14,"t":30,"v":139},{"k":14,"t":45,"v":92},{"k":14,"t":60,"v":59},{"k":14,"t":80,"v":33},{"k":14,"t":110,"v":14},{"k":14,"t":150,"v":5},{"k":14,"t":188.4,"v":2},
{"k":15,"t":0.5,"v":200},{"k":15,"t":5,"v":174},{"k":15,"t":10,"v":150},{"k":15,"t":20,"v":112},{"k":15,"t":30,"v":84},{"k":15,"t":45,"v":56},{"k":15,"t":60,"v":36},{"k":15,"t":80,"v":20},{"k":15,"t":110,"v":9},{"k":15,"t":150,"v":3},{"k":15,"t":188.4,"v":1},
{"k":16,"t":0.5,"v":100},{"k":16,"t":5,"v":87},{"k":16,"t":10,"v":75},{"k":16,"t":20,"v":56},{"k":16,"t":30,"v":42},{"k":16,"t":45,"v":28},{"k":16,"t":60,"v":18},{"k":16,"t":80,"v":10},{"k":16,"t":110,"v":4},{"k":16,"t":150,"v":1},{"k":16,"t":188.4,"v":0}
   ]},
    "mark":{"type":"line","color":"#000","strokeWidth":1.3},
    "encoding":{"x":{"field":"t","type":"quantitative","scale":{"domain":[-2.24,188.4],"range":[10,350],"nice":false,"zero":false},"axis":null},
                "y":{"field":"v","type":"quantitative","scale":{"domain":[-391.6,2937.3],"range":[760,505],"nice":false,"zero":false},"axis":null},
                "detail":{"field":"k","type":"nominal"}}},
   {"data":{"values":[{"t":0.3,"v1":-290,"v2":2870},{"t":64.1,"v1":414,"v2":914}]},
    "mark":{"type":"rule","color":"#000","strokeWidth":1.5},
    "encoding":{"x":{"field":"t","type":"quantitative","scale":{"domain":[-2.24,188.4],"range":[10,350],"nice":false,"zero":false},"axis":null},
                "y":{"field":"v1","type":"quantitative","scale":{"domain":[-391.6,2937.3],"range":[760,505],"nice":false,"zero":false},"axis":null},"y2":{"field":"v2"}}},
   {"data":{"values":[{"t1":35,"t2":188.4,"v":15}]},
    "mark":{"type":"rule","color":"#000","strokeWidth":5},
    "encoding":{"x":{"field":"t1","type":"quantitative","scale":{"domain":[-2.24,188.4],"range":[10,350],"nice":false,"zero":false},"axis":null},"x2":{"field":"t2"},
                "y":{"field":"v","type":"quantitative","scale":{"domain":[-391.6,2937.3],"range":[760,505],"nice":false,"zero":false},"axis":null}}},
   {"data":{"values":[{"t1":39.8,"t2":59.8,"v":-187}]},
    "mark":{"type":"rule","color":"#000","strokeWidth":1.3},
    "encoding":{"x":{"field":"t1","type":"quantitative","scale":{"domain":[-2.24,188.4],"range":[10,350],"nice":false,"zero":false},"axis":null},"x2":{"field":"t2"},
                "y":{"field":"v","type":"quantitative","scale":{"domain":[-391.6,2937.3],"range":[760,505],"nice":false,"zero":false},"axis":null}}},
   {"data":{"values":[{"t":67.9,"v":631,"label":"500 pA"}]},
    "mark":{"type":"text","fontSize":12,"align":"left"},
    "encoding":{"x":{"field":"t","type":"quantitative","scale":{"domain":[-2.24,188.4],"range":[10,350],"nice":false,"zero":false},"axis":null},
                "y":{"field":"v","type":"quantitative","scale":{"domain":[-391.6,2937.3],"range":[760,505],"nice":false,"zero":false},"axis":null},"text":{"field":"label"}}},
   {"data":{"values":[{"t":50.2,"v":-304,"label":"20 ms"}]},
    "mark":{"type":"text","fontSize":12},
    "encoding":{"x":{"field":"t","type":"quantitative","scale":{"domain":[-2.24,188.4],"range":[10,350],"nice":false,"zero":false},"axis":null},
                "y":{"field":"v","type":"quantitative","scale":{"domain":[-391.6,2937.3],"range":[760,505],"nice":false,"zero":false},"axis":null},"text":{"field":"label"}}},
   {"data":{"values":[{"t":-6.2,"v":3198,"label":"E"}]},
    "mark":{"type":"text","fontSize":17,"fontStyle":"italic","align":"left"},
    "encoding":{"x":{"field":"t","type":"quantitative","scale":{"domain":[-2.24,188.4],"range":[10,350],"nice":false,"zero":false},"axis":null},
                "y":{"field":"v","type":"quantitative","scale":{"domain":[-391.6,2937.3],"range":[760,505],"nice":false,"zero":false},"axis":null},"text":{"field":"label"}}}
  ]},
  {"layer":[
   {"data":{"values":[{"u1":1,"u2":2,"m1":-50,"m2":40},{"u1":5,"u2":6,"m1":-50,"m2":40}]},
    "mark":{"type":"rect","color":"#707070"},
    "encoding":{"x":{"field":"u1","type":"quantitative","scale":{"domain":[-1.501,6.731],"range":[10,350],"nice":false,"zero":false},"axis":null},"x2":{"field":"u2"},
                "y":{"field":"m1","type":"quantitative","scale":{"domain":[-100,-90,-80,-50,-30,40,100],"range":[625,597.3,575,559,545,537,505],"nice":false,"zero":false},"axis":null},"y2":{"field":"m2"}}},
   {"data":{"values":[{"i":0,"u":-0.22,"m":-80},{"i":1,"u":0,"m":-80},{"i":2,"u":0,"m":-90},{"i":3,"u":1,"m":-90},{"i":4,"u":1,"m":40},{"i":5,"u":2,"m":40},{"i":6,"u":2,"m":-80},{"i":7,"u":3,"m":-80},{"i":8,"u":3,"m":-90},{"i":9,"u":4,"m":-90},{"i":10,"u":4,"m":-30},{"i":11,"u":5,"m":-30},{"i":12,"u":5,"m":40},{"i":13,"u":6,"m":40},{"i":14,"u":6,"m":-50},{"i":15,"u":6.08,"m":-50},{"i":16,"u":6.08,"m":-80},{"i":17,"u":6.25,"m":-80}]},
    "mark":{"type":"line","color":"#444","strokeWidth":1},
    "encoding":{"x":{"field":"u","type":"quantitative","scale":{"domain":[-1.501,6.731],"range":[10,350],"nice":false,"zero":false},"axis":null},
                "y":{"field":"m","type":"quantitative","scale":{"domain":[-100,-90,-80,-50,-30,40,100],"range":[625,597.3,575,559,545,537,505],"nice":false,"zero":false},"axis":null},
                "order":{"field":"i","type":"quantitative"}}},
   {"data":{"values":[{"u":5.02,"m1":-90,"m2":-30}]},
    "mark":{"type":"rule","color":"#444","strokeWidth":1},
    "encoding":{"x":{"field":"u","type":"quantitative","scale":{"domain":[-1.501,6.731],"range":[10,350],"nice":false,"zero":false},"axis":null},
                "y":{"field":"m1","type":"quantitative","scale":{"domain":[-100,-90,-80,-50,-30,40,100],"range":[625,597.3,575,559,545,537,505],"nice":false,"zero":false},"axis":null},"y2":{"field":"m2"}}},
   {"data":{"values":[{"u":1.525,"m":70.6,"label":"Test step"},{"u":5.58,"m":70.6,"label":"Control step"}]},
    "mark":{"type":"text","fontSize":10.5,"color":"#222"},
    "encoding":{"x":{"field":"u","type":"quantitative","scale":{"domain":[-1.501,6.731],"range":[10,350],"nice":false,"zero":false},"axis":null},
                "y":{"field":"m","type":"quantitative","scale":{"domain":[-100,-90,-80,-50,-30,40,100],"range":[625,597.3,575,559,545,537,505],"nice":false,"zero":false},"axis":null},"text":{"field":"label"}}},
   {"data":{"values":[{"u":0.52,"m":-86.4,"label":"−90 mV"},{"u":0.5,"m":-92.5,"label":"500 ms"},{"u":2.52,"m":-84.2,"label":"500 ms"},{"u":3.46,"m":-86.4,"label":"−90 mV"},{"u":3.44,"m":-92.5,"label":"500 ms"},{"u":4.52,"m":-41.4,"label":"200 ms"}]},
    "mark":{"type":"text","fontSize":9.5,"color":"#222"},
    "encoding":{"x":{"field":"u","type":"quantitative","scale":{"domain":[-1.501,6.731],"range":[10,350],"nice":false,"zero":false},"axis":null},
                "y":{"field":"m","type":"quantitative","scale":{"domain":[-100,-90,-80,-50,-30,40,100],"range":[625,597.3,575,559,545,537,505],"nice":false,"zero":false},"axis":null},"text":{"field":"label"}}},
   {"data":{"values":[{"u":0.92,"m":19.9,"label":"40 mV"},{"u":0.97,"m":-53.75,"label":"−50 mV"},{"u":-0.05,"m":-70.6,"label":"−80 mV"},{"u":4.87,"m":19.9,"label":"−30 mV"}]},
    "mark":{"type":"text","fontSize":9.5,"color":"#222","align":"right"},
    "encoding":{"x":{"field":"u","type":"quantitative","scale":{"domain":[-1.501,6.731],"range":[10,350],"nice":false,"zero":false},"axis":null},
                "y":{"field":"m","type":"quantitative","scale":{"domain":[-100,-90,-80,-50,-30,40,100],"range":[625,597.3,575,559,545,537,505],"nice":false,"zero":false},"axis":null},"text":{"field":"label"}}},
   {"data":{"values":[{"u":1.11,"m":-70.6,"label":"200 ms"},{"u":2.13,"m":-67.4,"label":"−80 mV"},{"u":6.05,"m":28.6,"label":"40 mV"},{"u":6.1,"m":-46.7,"label":"−50 mV"},{"u":6.1,"m":-80.8,"label":"−80 mV"},{"u":5.11,"m":-70.6,"label":"200 ms"}]},
    "mark":{"type":"text","fontSize":9.5,"color":"#222","align":"left"},
    "encoding":{"x":{"field":"u","type":"quantitative","scale":{"domain":[-1.501,6.731],"range":[10,350],"nice":false,"zero":false},"axis":null},
                "y":{"field":"m","type":"quantitative","scale":{"domain":[-100,-90,-80,-50,-30,40,100],"range":[625,597.3,575,559,545,537,505],"nice":false,"zero":false},"axis":null},"text":{"field":"label"}}}
  ]}
 ],
 "resolve":{"scale":{"x":"independent","y":"independent"}}
},
{"data":{"values":[{"x":-50,"y":11.5,"lo":1,"hi":21.5},{"x":-45,"y":13,"lo":8,"hi":18},{"x":-40,"y":19.5,"lo":15.5,"hi":23.5},{"x":-35,"y":17,"lo":14,"hi":19.5},{"x":-30,"y":18.5,"lo":16,"hi":21},{"x":-25,"y":18.8,"lo":15.8,"hi":21.8},{"x":-20,"y":20.3,"lo":17.2,"hi":23.4},{"x":-15,"y":20.2,"lo":17.3,"hi":23},{"x":-10,"y":20.5,"lo":18,"hi":23},{"x":-5,"y":20.5,"lo":18,"hi":23},{"x":0,"y":19.5,"lo":18,"hi":21},{"x":5,"y":18.8,"lo":17.3,"hi":20.5},{"x":10,"y":19,"lo":17,"hi":21},{"x":15,"y":19.5,"lo":17.3,"hi":21.7},{"x":20,"y":20,"lo":17.5,"hi":22.5},{"x":25,"y":20.5,"lo":18,"hi":23},{"x":30,"y":25,"lo":22.5,"hi":27.5},{"x":35,"y":27,"lo":24.3,"hi":29.6},{"x":40,"y":28,"lo":25.5,"hi":30.8}]},
 "layer":[
  {"mark":{"type":"point","shape":"circle","filled":false,"color":"#2233cc","size":46,"strokeWidth":1.5,"opacity":1},
   "encoding":{"x":{"field":"x","type":"quantitative","scale":{"domain":[-55,45],"range":[417,685],"nice":false,"zero":false},"axis":{"orient":"bottom","offset":-374.7,"values":[-40,-20,0,20,40],"labels":false,"title":null}},
               "y":{"field":"y","type":"quantitative","scale":{"domain":[0,40],"range":[607.3,491],"nice":false,"zero":false},"axis":{"orient":"left","offset":-417,"values":[0,10,20,30,40],"format":"d","title":null,"labelFontSize":12}}}},
  {"mark":{"type":"rule","color":"#2233cc","strokeWidth":1.5},
   "encoding":{"x":{"field":"x","type":"quantitative","scale":{"domain":[-55,45],"range":[417,685],"nice":false,"zero":false}},
               "y":{"field":"lo","type":"quantitative","scale":{"domain":[0,40],"range":[607.3,491],"nice":false,"zero":false}},"y2":{"field":"hi"}}},
  {"mark":{"type":"tick","orient":"horizontal","size":5,"thickness":1.5,"color":"#2233cc","opacity":1},
   "encoding":{"x":{"field":"x","type":"quantitative","scale":{"domain":[-55,45],"range":[417,685],"nice":false,"zero":false}},
               "y":{"field":"lo","type":"quantitative","scale":{"domain":[0,40],"range":[607.3,491],"nice":false,"zero":false}}}},
  {"mark":{"type":"tick","orient":"horizontal","size":5,"thickness":1.5,"color":"#2233cc","opacity":1},
   "encoding":{"x":{"field":"x","type":"quantitative","scale":{"domain":[-55,45],"range":[417,685],"nice":false,"zero":false}},
               "y":{"field":"hi","type":"quantitative","scale":{"domain":[0,40],"range":[607.3,491],"nice":false,"zero":false}}}},
  {"data":{"values":[{"x":3.1,"y":8.8,"label":"Inactivation"}]},
   "mark":{"type":"text","fontSize":12.5,"color":"#2233cc"},
   "encoding":{"x":{"field":"x","type":"quantitative","scale":{"domain":[-55,45],"range":[417,685],"nice":false,"zero":false}},
               "y":{"field":"y","type":"quantitative","scale":{"domain":[0,40],"range":[607.3,491],"nice":false,"zero":false}},"text":{"field":"label"}}},
  {"data":{"values":[{"x":-72.5,"y":40.3,"label":"F"}]},
   "mark":{"type":"text","fontSize":17,"fontStyle":"italic","align":"left"},
   "encoding":{"x":{"field":"x","type":"quantitative","scale":{"domain":[-55,45],"range":[417,685],"nice":false,"zero":false}},
               "y":{"field":"y","type":"quantitative","scale":{"domain":[0,40],"range":[607.3,491],"nice":false,"zero":false}},"text":{"field":"label"}}}
 ]
},
{"data":{"values":[{"x":-50,"y":2.95,"lo":0.5,"hi":5.37},{"x":-45,"y":0.72,"lo":0.15,"hi":1.32},{"x":-40,"y":0.98,"lo":0.75,"hi":1.2},{"x":-35,"y":1.72,"lo":1.07,"hi":2.35},{"x":-30,"y":0.6,"lo":0.5,"hi":0.7},{"x":-25,"y":0.65,"lo":0.55,"hi":0.77},{"x":-20,"y":0.55,"lo":0.46,"hi":0.64},{"x":-15,"y":0.5,"lo":0.42,"hi":0.58},{"x":-10,"y":0.47,"lo":0.4,"hi":0.54},{"x":-5,"y":0.42,"lo":0.36,"hi":0.48},{"x":0,"y":0.38,"lo":0.33,"hi":0.43},{"x":5,"y":0.36,"lo":0.31,"hi":0.41},{"x":10,"y":0.33,"lo":0.28,"hi":0.38},{"x":15,"y":0.31,"lo":0.26,"hi":0.36},{"x":20,"y":0.3,"lo":0.25,"hi":0.35},{"x":25,"y":0.27,"lo":0.22,"hi":0.32},{"x":30,"y":0.3,"lo":0.25,"hi":0.35},{"x":35,"y":0.3,"lo":0.25,"hi":0.35},{"x":40,"y":0.27,"lo":0.22,"hi":0.32}]},
 "layer":[
  {"mark":{"type":"point","shape":"circle","filled":false,"color":"#a3262e","size":46,"strokeWidth":1.5,"opacity":1},
   "encoding":{"x":{"field":"x","type":"quantitative","scale":{"domain":[-55,45],"range":[417,685],"nice":false,"zero":false},"axis":{"orient":"bottom","offset":-243.7,"values":[-40,-20,0,20,40],"format":"d","title":"Membrane potential (mV)","titleFontSize":13.5,"labelFontSize":12}},
               "y":{"field":"y","type":"quantitative","scale":{"domain":[0,6],"range":[738.3,627.7],"nice":false,"zero":false},"axis":{"orient":"left","offset":-417,"values":[0,2,4,6],"format":"d","title":null,"labelFontSize":12}}}},
  {"mark":{"type":"rule","color":"#a3262e","strokeWidth":1.5},
   "encoding":{"x":{"field":"x","type":"quantitative","scale":{"domain":[-55,45],"range":[417,685],"nice":false,"zero":false}},
               "y":{"field":"lo","type":"quantitative","scale":{"domain":[0,6],"range":[738.3,627.7],"nice":false,"zero":false}},"y2":{"field":"hi"}}},
  {"mark":{"type":"tick","orient":"horizontal","size":5,"thickness":1.5,"color":"#a3262e","opacity":1},
   "encoding":{"x":{"field":"x","type":"quantitative","scale":{"domain":[-55,45],"range":[417,685],"nice":false,"zero":false}},
               "y":{"field":"lo","type":"quantitative","scale":{"domain":[0,6],"range":[738.3,627.7],"nice":false,"zero":false}}}},
  {"mark":{"type":"tick","orient":"horizontal","size":5,"thickness":1.5,"color":"#a3262e","opacity":1},
   "encoding":{"x":{"field":"x","type":"quantitative","scale":{"domain":[-55,45],"range":[417,685],"nice":false,"zero":false}},
               "y":{"field":"hi","type":"quantitative","scale":{"domain":[0,6],"range":[738.3,627.7],"nice":false,"zero":false}}}},
  {"data":{"values":[{"x":3.1,"y":2.08,"label":"Activation"}]},
   "mark":{"type":"text","fontSize":12.5,"color":"#a3262e"},
   "encoding":{"x":{"field":"x","type":"quantitative","scale":{"domain":[-55,45],"range":[417,685],"nice":false,"zero":false}},
               "y":{"field":"y","type":"quantitative","scale":{"domain":[0,6],"range":[738.3,627.7],"nice":false,"zero":false}},"text":{"field":"label"}}},
  {"data":{"values":[{"x":-66.2,"y":6.91,"label":"Time constants (ms)"}]},
   "mark":{"type":"text","fontSize":13,"angle":270,"color":"#000"},
   "encoding":{"x":{"field":"x","type":"quantitative","scale":{"domain":[-55,45],"range":[417,685],"nice":false,"zero":false}},
               "y":{"field":"y","type":"quantitative","scale":{"domain":[0,6],"range":[738.3,627.7],"nice":false,"zero":false}},"text":{"field":"label"}}}
 ]
},
{"data":{"values":[
{"g":"fast","x":-50,"y":0.025,"lo":0.005,"hi":0.045},{"g":"fast","x":-45,"y":0.03,"lo":0.01,"hi":0.05},{"g":"fast","x":-40,"y":0.1,"lo":0.075,"hi":0.125},{"g":"fast","x":-35,"y":0.167,"lo":0.14,"hi":0.19},{"g":"fast","x":-30,"y":0.32,"lo":0.29,"hi":0.35},{"g":"fast","x":-25,"y":0.475,"lo":0.44,"hi":0.51},{"g":"fast","x":-20,"y":0.607,"lo":0.56,"hi":0.655},{"g":"fast","x":-15,"y":0.757,"lo":0.7,"hi":0.81},{"g":"fast","x":-10,"y":0.9,"lo":0.84,"hi":0.96},{"g":"fast","x":-5,"y":1.026,"lo":0.965,"hi":1.09},{"g":"fast","x":0,"y":1.14,"lo":1.07,"hi":1.21},{"g":"fast","x":5,"y":1.24,"lo":1.16,"hi":1.32},{"g":"fast","x":10,"y":1.35,"lo":1.25,"hi":1.45},{"g":"fast","x":15,"y":1.45,"lo":1.31,"hi":1.58},{"g":"fast","x":20,"y":1.53,"lo":1.38,"hi":1.67},{"g":"fast","x":25,"y":1.6,"lo":1.45,"hi":1.77},{"g":"fast","x":30,"y":1.75,"lo":1.58,"hi":1.91},{"g":"fast","x":35,"y":1.88,"lo":1.67,"hi":2.09},{"g":"fast","x":40,"y":2.03,"lo":1.83,"hi":2.22},
{"g":"non","x":-50,"y":0.01,"lo":0,"hi":0.02},{"g":"non","x":-45,"y":0.01,"lo":0,"hi":0.02},{"g":"non","x":-40,"y":0.012,"lo":0,"hi":0.025},{"g":"non","x":-35,"y":0.02,"lo":0.005,"hi":0.035},{"g":"non","x":-30,"y":0.025,"lo":0.01,"hi":0.04},{"g":"non","x":-25,"y":0.045,"lo":0.025,"hi":0.065},{"g":"non","x":-20,"y":0.085,"lo":0.06,"hi":0.11},{"g":"non","x":-15,"y":0.147,"lo":0.12,"hi":0.175},{"g":"non","x":-10,"y":0.226,"lo":0.195,"hi":0.255},{"g":"non","x":-5,"y":0.358,"lo":0.32,"hi":0.395},{"g":"non","x":0,"y":0.494,"lo":0.45,"hi":0.54},{"g":"non","x":5,"y":0.636,"lo":0.59,"hi":0.68},{"g":"non","x":10,"y":0.733,"lo":0.68,"hi":0.79},{"g":"non","x":15,"y":0.86,"lo":0.8,"hi":0.92},{"g":"non","x":20,"y":0.934,"lo":0.86,"hi":1.0},{"g":"non","x":25,"y":1.007,"lo":0.93,"hi":1.09},{"g":"non","x":30,"y":0.968,"lo":0.9,"hi":1.03},{"g":"non","x":35,"y":1.056,"lo":0.98,"hi":1.14},{"g":"non","x":40,"y":1.11,"lo":1.0,"hi":1.2}
 ]},
 "layer":[
  {"mark":{"type":"point","shape":"circle","filled":false,"size":40,"strokeWidth":1.5,"opacity":1},
   "encoding":{"x":{"field":"x","type":"quantitative","scale":{"domain":[-60,45],"range":[38.6,375.3],"nice":false,"zero":false},"axis":{"orient":"bottom","offset":-35,"values":[-60,-50,-40,-30,-20,-10,0,10,20,30,40],"format":"d","title":"Membrane potential (mV)","titleFontSize":13.5,"labelFontSize":11.5}},
               "y":{"field":"y","type":"quantitative","scale":{"domain":[-0.092,2.283],"range":[947,785],"nice":false,"zero":false},"axis":{"orient":"left","offset":-38.6,"values":[0,0.5,1,1.5,2],"labelExpr":"datum.value == 0 ? '0' : format(datum.value, '.1f')","title":"Current (nA)","titleFontSize":13,"labelFontSize":11.5}},
               "color":{"field":"g","type":"nominal","scale":{"domain":["fast","non"],"range":["#111111","#677a7a"]},"legend":null}}},
  {"data":{"values":[{"x1":-52,"x2":-18,"y1":-0.088,"y2":0.754}]},
   "mark":{"type":"rect","filled":false,"color":"#8b9b9b","strokeWidth":1.5,"strokeDash":[6,4]},
   "encoding":{"x":{"field":"x1","type":"quantitative","scale":{"domain":[-60,45],"range":[38.6,375.3],"nice":false,"zero":false}},"x2":{"field":"x2"},
               "y":{"field":"y1","type":"quantitative","scale":{"domain":[-0.092,2.283],"range":[947,785],"nice":false,"zero":false}},"y2":{"field":"y2"}}},
  {"mark":{"type":"rule","strokeWidth":1.5},
   "encoding":{"x":{"field":"x","type":"quantitative","scale":{"domain":[-60,45],"range":[38.6,375.3],"nice":false,"zero":false}},
               "y":{"field":"lo","type":"quantitative","scale":{"domain":[-0.092,2.283],"range":[947,785],"nice":false,"zero":false}},"y2":{"field":"hi"},
               "color":{"field":"g","type":"nominal","scale":{"domain":["fast","non"],"range":["#111111","#677a7a"]},"legend":null}}},
  {"mark":{"type":"tick","orient":"horizontal","size":7,"thickness":1.5,"opacity":1},
   "encoding":{"x":{"field":"x","type":"quantitative","scale":{"domain":[-60,45],"range":[38.6,375.3],"nice":false,"zero":false}},
               "y":{"field":"lo","type":"quantitative","scale":{"domain":[-0.092,2.283],"range":[947,785],"nice":false,"zero":false}},
               "color":{"field":"g","type":"nominal","scale":{"domain":["fast","non"],"range":["#111111","#677a7a"]},"legend":null}}},
  {"mark":{"type":"tick","orient":"horizontal","size":7,"thickness":1.5,"opacity":1},
   "encoding":{"x":{"field":"x","type":"quantitative","scale":{"domain":[-60,45],"range":[38.6,375.3],"nice":false,"zero":false}},
               "y":{"field":"hi","type":"quantitative","scale":{"domain":[-0.092,2.283],"range":[947,785],"nice":false,"zero":false}},
               "color":{"field":"g","type":"nominal","scale":{"domain":["fast","non"],"range":["#111111","#677a7a"]},"legend":null}}},
  {"data":{"values":[{"x":-7.5,"y":1.66,"label":"Fast-inactivating"}]},
   "mark":{"type":"text","fontSize":13.5,"color":"#111"},
   "encoding":{"x":{"field":"x","type":"quantitative","scale":{"domain":[-60,45],"range":[38.6,375.3],"nice":false,"zero":false}},
               "y":{"field":"y","type":"quantitative","scale":{"domain":[-0.092,2.283],"range":[947,785],"nice":false,"zero":false}},"text":{"field":"label"}}},
  {"data":{"values":[{"x":26.8,"y":0.484,"label":"Non-inactivating"},{"x":26.8,"y":0.255,"label":"(TEA insensitive)"}]},
   "mark":{"type":"text","fontSize":13.5,"color":"#6f8585"},
   "encoding":{"x":{"field":"x","type":"quantitative","scale":{"domain":[-60,45],"range":[38.6,375.3],"nice":false,"zero":false}},
               "y":{"field":"y","type":"quantitative","scale":{"domain":[-0.092,2.283],"range":[947,785],"nice":false,"zero":false}},"text":{"field":"label"}}},
  {"data":{"values":[{"x":-71.1,"y":2.356,"label":"G"}]},
   "mark":{"type":"text","fontSize":17,"fontStyle":"italic","align":"left"},
   "encoding":{"x":{"field":"x","type":"quantitative","scale":{"domain":[-60,45],"range":[38.6,375.3],"nice":false,"zero":false}},
               "y":{"field":"y","type":"quantitative","scale":{"domain":[-0.092,2.283],"range":[947,785],"nice":false,"zero":false}},"text":{"field":"label"}}}
 ]
},
{"data":{"values":[
{"g":"fast","x":-50,"y":20,"lo":12,"hi":30},{"g":"fast","x":-45,"y":25,"lo":18,"hi":30},{"g":"fast","x":-40,"y":95,"lo":77,"hi":115},{"g":"fast","x":-35,"y":165,"lo":148,"hi":183},{"g":"fast","x":-30,"y":322,"lo":296,"hi":352},{"g":"fast","x":-25,"y":467,"lo":432,"hi":503},{"g":"fast","x":-20,"y":605,"lo":553,"hi":655},
{"g":"non","x":-50,"y":8,"lo":3,"hi":13},{"g":"non","x":-45,"y":8,"lo":2,"hi":14},{"g":"non","x":-40,"y":10,"lo":5,"hi":15},{"g":"non","x":-35,"y":22,"lo":16,"hi":28},{"g":"non","x":-30,"y":27,"lo":21,"hi":33},{"g":"non","x":-25,"y":45,"lo":37,"hi":53},{"g":"non","x":-20,"y":90,"lo":80,"hi":100}
 ]},
 "layer":[
  {"mark":{"type":"point","shape":"circle","filled":false,"size":55,"strokeWidth":1.5,"opacity":1},
   "encoding":{"x":{"field":"x","type":"quantitative","scale":{"domain":[-51.6,-18.1],"range":[437.5,684],"nice":false,"zero":false},"axis":{"orient":"bottom","offset":-33,"values":[-50,-45,-40,-35,-30,-25,-20],"format":"d","title":"Membrane potential (mV)"}},
               "y":{"field":"y","type":"quantitative","scale":{"domain":[-15.1,701.5],"range":[949,792],"nice":false,"zero":false},"axis":{"orient":"left","offset":-437.5,"values":[0,100,200,300,400,500,600,700],"format":"d","title":"Current (pA)","titlePadding":2}},
               "color":{"field":"g","type":"nominal","scale":{"domain":["fast","non"],"range":["#111111","#677a7a"]},"legend":null}}},
  {"mark":{"type":"rule","strokeWidth":1.5},
   "encoding":{"x":{"field":"x","type":"quantitative","scale":{"domain":[-51.6,-18.1],"range":[437.5,684],"nice":false,"zero":false}},
               "y":{"field":"lo","type":"quantitative","scale":{"domain":[-15.1,701.5],"range":[949,792],"nice":false,"zero":false}},"y2":{"field":"hi"},
               "color":{"field":"g","type":"nominal","scale":{"domain":["fast","non"],"range":["#111111","#677a7a"]},"legend":null}}},
  {"mark":{"type":"tick","orient":"horizontal","size":12,"thickness":1.6,"opacity":1},
   "encoding":{"x":{"field":"x","type":"quantitative","scale":{"domain":[-51.6,-18.1],"range":[437.5,684],"nice":false,"zero":false}},
               "y":{"field":"lo","type":"quantitative","scale":{"domain":[-15.1,701.5],"range":[949,792],"nice":false,"zero":false}},
               "color":{"field":"g","type":"nominal","scale":{"domain":["fast","non"],"range":["#111111","#677a7a"]},"legend":null}}},
  {"mark":{"type":"tick","orient":"horizontal","size":12,"thickness":1.6,"opacity":1},
   "encoding":{"x":{"field":"x","type":"quantitative","scale":{"domain":[-51.6,-18.1],"range":[437.5,684],"nice":false,"zero":false}},
               "y":{"field":"hi","type":"quantitative","scale":{"domain":[-15.1,701.5],"range":[949,792],"nice":false,"zero":false}},
               "color":{"field":"g","type":"nominal","scale":{"domain":["fast","non"],"range":["#111111","#677a7a"]},"legend":null}}}
 ]
}
]
}
